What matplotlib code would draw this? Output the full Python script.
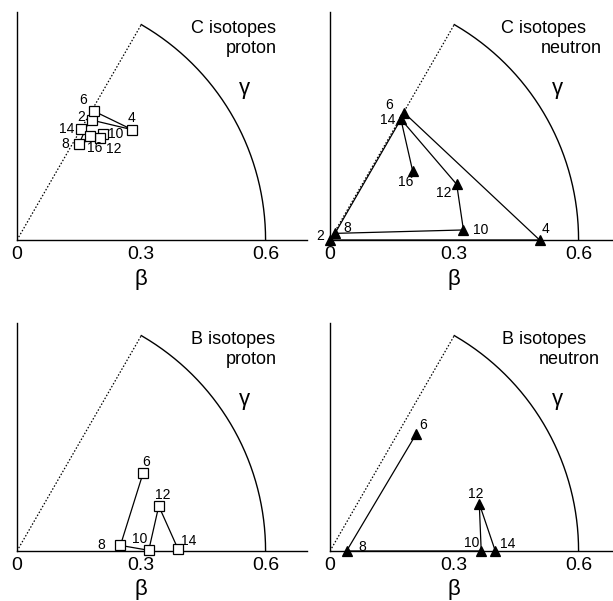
import numpy as np
import matplotlib.pyplot as plt

plt.rcParams['font.family'] = ['Liberation Sans', 'DejaVu Sans']

# deformation (beta, gamma in degrees) for even mass numbers
c_mass = [2, 4, 6, 8, 10, 12, 14, 16]
c_p_beta = [0.341, 0.385, 0.362, 0.275, 0.328, 0.317, 0.309, 0.307]
c_p_gamma = [58.0, 43.7, 59.3, 57.1, 50.9, 50.9, 60.0, 54.7]
c_n_beta = [0.0, 0.506, 0.355, 0.020, 0.323, 0.334, 0.338, 0.260]
c_n_gamma = [0.0, 0.0, 59.6, 53.0, 4.3, 23.7, 59.6, 39.9]

b_mass = [6, 8, 10, 12, 14]
b_p_beta = [0.357, 0.250, 0.318, 0.359, 0.389]
b_p_gamma = [31.6, 3.1, 0.3, 17.6, 0.6]
b_n_beta = [0.350, 0.040, 0.365, 0.378, 0.399]
b_n_gamma = [53.6, 0.0, 0.0, 17.6, 0.0]

# label offsets (pixels, right/up) per mass number
c_p_off = {2: (-11, 3), 4: (-1, 12), 6: (-10, 11), 8: (-14, 0), 10: (13, 0),
           12: (14, -11), 14: (-14, 0), 16: (4, -12)}
c_n_off = {2: (-10, 4), 4: (6, 11), 6: (-15, 8), 8: (12, 5), 10: (17, 0),
           12: (-13, -9), 14: (-13, -1), 16: (-7, -11)}
b_p_off = {6: (3, 11), 8: (-19, 0), 10: (-9, 11), 12: (4, 11), 14: (11, 8)}
b_n_off = {6: (7, 9), 8: (16, 4), 10: (-10, 8), 12: (-4, 10), 14: (12, 7)}

W, H = 613, 601
fig = plt.figure(figsize=(W / 100, H / 100), dpi=100)

px = 0.72  # points per pixel at 100 dpi
aw = 290 / W
ah = 228 / H


def panel(rect, beta, gamma, mass, offs, marker, face, line1, line2,
          beta_y):
    ax = fig.add_axes(rect)
    ax.set_xlim(0, 0.70)
    ax.set_ylim(0, 0.55)
    for s in ['top', 'right']:
        ax.spines[s].set_visible(False)
    ax.spines['left'].set_linewidth(1.0)
    ax.spines['bottom'].set_linewidth(1.0)
    ax.set_yticks([])
    ax.set_xticks([0, 0.3, 0.6])
    ax.set_xticklabels(['0', '0.3', '0.6'], fontsize=14)
    ax.tick_params(axis='x', length=0, pad=4.5)
    ax.set_xlabel('β', fontsize=16, va='center')
    ax.xaxis.set_label_coords(0.3 / 0.70, -beta_y / 228)

    # gamma sector: arc at beta = 0.6 and the 60 degree line
    t = np.linspace(0, np.pi / 3, 200)
    ax.plot(0.6 * np.cos(t), 0.6 * np.sin(t), color='black', lw=1.0,
            clip_on=False)
    ax.plot([0, 0.6 * np.cos(np.pi / 3)], [0, 0.6 * np.sin(np.pi / 3)],
            color='black', lw=0.9, ls=(0, (1.2, 1.5)))
    ax.text(0.55, 0.366, 'γ', fontsize=16, ha='center', va='center')

    b = np.array(beta)
    g = np.radians(gamma)
    x = b * np.cos(g)
    y = b * np.sin(g)
    ax.plot(x, y, color='black', lw=0.9, marker=marker, ms=6.5,
            mfc=face, mec='black', mew=0.9, clip_on=False, zorder=3)
    for xi, yi, m in zip(x, y, mass):
        dx, dy = offs[m]
        ax.annotate(str(m), (xi, yi), xytext=(dx * px, dy * px),
                    textcoords='offset points', ha='center', va='center',
                    fontsize=10)

    ax.text(line1[0], 0.50, line1[1], fontsize=13, ha='right',
            va='baseline')
    ax.text(line2[0], 0.45, line2[1], fontsize=13, ha='right',
            va='baseline')
    return ax


panel([17 / W, (H - 240) / H, aw, ah], c_p_beta, c_p_gamma, c_mass,
      c_p_off, 's', 'white', (0.624, 'C isotopes'), (0.627, 'proton'), 40)
panel([330 / W, (H - 240) / H, aw, ah], c_n_beta, c_n_gamma, c_mass,
      c_n_off, '^', 'black', (0.618, 'C isotopes'), (0.656, 'neutron'), 40)
panel([17 / W, (H - 551) / H, aw, ah], b_p_beta, b_p_gamma, b_mass,
      b_p_off, 's', 'white', (0.624, 'B isotopes'), (0.627, 'proton'), 38)
panel([330 / W, (H - 551) / H, aw, ah], b_n_beta, b_n_gamma, b_mass,
      b_n_off, '^', 'black', (0.618, 'B isotopes'), (0.652, 'neutron'), 38)

fig.savefig('out.png', dpi=100)
